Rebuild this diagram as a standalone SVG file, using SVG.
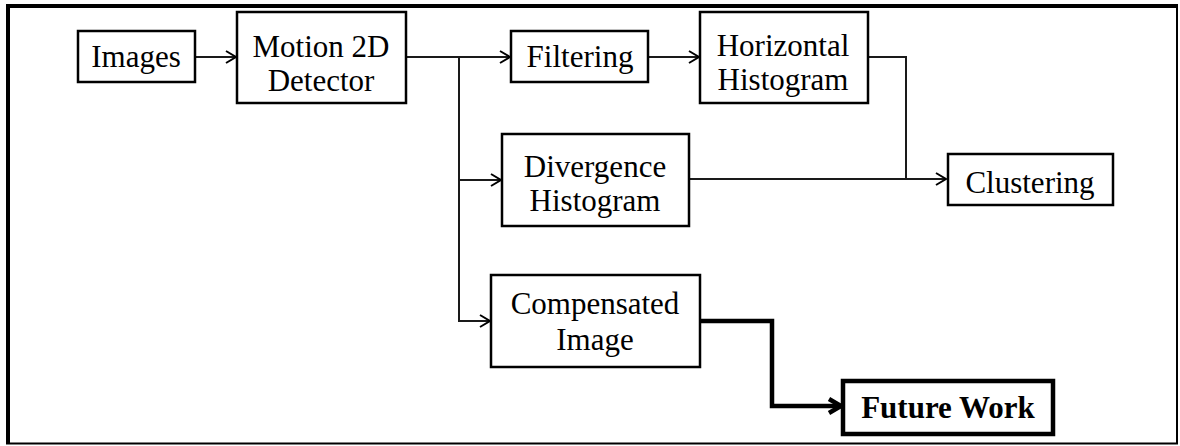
<svg xmlns="http://www.w3.org/2000/svg" width="1180" height="446" viewBox="0 0 1180 446">
<style>
.box{fill:#fff;stroke:#000;stroke-width:2.5}
.bold{fill:#fff;stroke:#000;stroke-width:4.5}
.t{font-family:"Liberation Serif","Times New Roman",serif;font-size:31px;fill:#000;text-anchor:middle}
.tb{font-family:"Liberation Serif","Times New Roman",serif;font-size:31px;font-weight:bold;fill:#000;text-anchor:middle}
.c{fill:none;stroke:#1a1a1a;stroke-width:2}
.ct{fill:none;stroke:#000;stroke-width:4.5;stroke-linejoin:miter}
</style>
<defs>
<marker id="ah" markerUnits="userSpaceOnUse" markerWidth="14" markerHeight="16" refX="11" refY="7" orient="auto">
<path d="M1,1 L11,7 L1,13" fill="none" stroke="#000" stroke-width="2"/>
</marker>
<marker id="ahb" markerUnits="userSpaceOnUse" markerWidth="18" markerHeight="20" refX="14" refY="9" orient="auto">
<path d="M2,2 L14,9 L2,16" fill="none" stroke="#000" stroke-width="4.5"/>
</marker>
</defs>
<rect width="1180" height="446" fill="#fff"/>
<g id="frame" fill="none" stroke="#000">
<line x1="6" y1="6" x2="1178" y2="6" stroke-width="4"/>
<line x1="8" y1="4" x2="8" y2="444" stroke-width="4"/>
<line x1="1177" y1="5" x2="1177" y2="444" stroke-width="2"/>
<line x1="6" y1="443.5" x2="1178" y2="443.5" stroke-width="2"/>
</g>
<g id="connectors">
<line class="c" x1="196" y1="57" x2="236" y2="57" marker-end="url(#ah)"/>
<line class="c" x1="407" y1="57" x2="510" y2="57" marker-end="url(#ah)"/>
<polyline class="c" points="459,57 459,321 490,321" marker-end="url(#ah)"/>
<line class="c" x1="459" y1="180" x2="501" y2="180" stroke="#666" marker-end="url(#ah)"/>
<line class="c" x1="649" y1="57" x2="699" y2="57" marker-end="url(#ah)"/>
<polyline class="c" points="868,57 906,57 906,179"/>
<line class="c" x1="689" y1="179" x2="946" y2="179" marker-end="url(#ah)"/>
<polyline class="ct" points="700,321 772,321 772,406 841,406" marker-end="url(#ahb)"/>
</g>
<g id="images"><rect class="box" x="78" y="31" width="117" height="51"/><text class="t" x="136" y="67">Images</text></g>
<g id="motion"><rect class="box" x="237" y="12" width="169" height="91"/><text class="t" x="321" y="57">Motion 2D</text><text class="t" x="321" y="91">Detector</text></g>
<g id="filtering"><rect class="box" x="511" y="31" width="137" height="51"/><text class="t" x="580" y="67">Filtering</text></g>
<g id="horizontal"><rect class="box" x="700" y="12" width="168" height="91"/><text class="t" x="783" y="56">Horizontal</text><text class="t" x="783" y="90">Histogram</text></g>
<g id="divergence"><rect class="box" x="502" y="134" width="187" height="92"/><text class="t" x="595" y="177">Divergence</text><text class="t" x="595" y="211">Histogram</text></g>
<g id="clustering"><rect class="box" x="948" y="154" width="165" height="51"/><text class="t" x="1030" y="193">Clustering</text></g>
<g id="compensated"><rect class="box" x="491" y="275" width="209" height="92"/><text class="t" x="595" y="314">Compensated</text><text class="t" x="595" y="350">Image</text></g>
<g id="future"><rect class="bold" x="843" y="381" width="210" height="53"/><text class="tb" x="948" y="418">Future Work</text></g>
</svg>
